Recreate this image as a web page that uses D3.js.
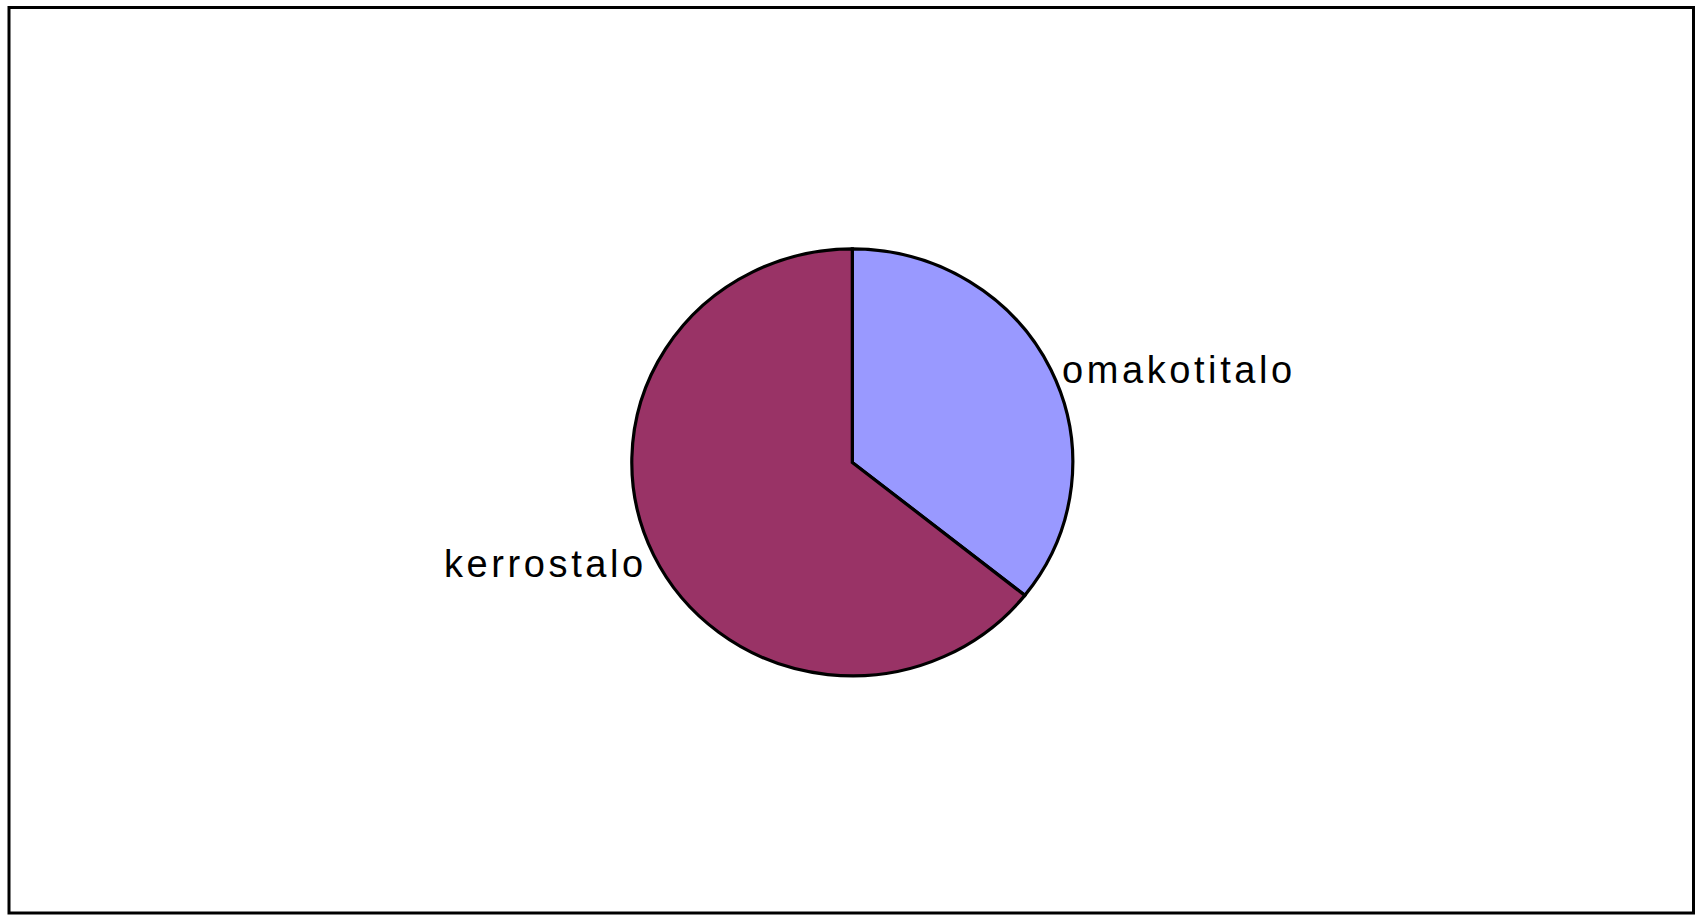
<!DOCTYPE html>
<html>
<head>
<meta charset="utf-8">
<script src="https://cdn.jsdelivr.net/npm/d3@7"></script>
<style>
  html, body { margin: 0; padding: 0; background: #fff; }
  svg { display: block; }
</style>
</head>
<body>
<svg id="chart" width="1695" height="915"></svg>
<script>
const categories = ["omakotitalo", "kerrostalo"];
const values = [35.7, 64.3];
const colors = ["#9999FF", "#993366"];

const svg = d3.select("#chart");
const W = 1695, H = 915;

// outer frame
svg.append("rect")
  .attr("x", 9).attr("y", 7.5)
  .attr("width", 1684.5).attr("height", 905.5)
  .attr("fill", "#fff").attr("stroke", "#000").attr("stroke-width", 3);

const cx = 852.3, cy = 462.4, rx = 220.5, ry = 213.5;
const data = categories.map((c, i) => ({ name: c, value: values[i], color: colors[i] }));

const pie = d3.pie().sort(null).value(d => d.value);
const arcs = pie(data);
const arc = d3.arc().innerRadius(0).outerRadius(rx);

const g = svg.append("g")
  .attr("transform", `translate(${cx},${cy}) scale(1,${ry / rx})`);

g.selectAll("path")
  .data(arcs)
  .join("path")
  .attr("d", arc)
  .attr("fill", d => d.data.color)
  .attr("stroke", "#000")
  .attr("stroke-width", 3.2)
  .attr("stroke-linejoin", "miter")
  .attr("vector-effect", "non-scaling-stroke");

// labels
const labelFactor = [1.0, 1.09];
const labelGap = [11, 11];
svg.selectAll("text.lbl")
  .data(arcs)
  .join("text")
  .attr("class", "lbl")
  .each(function(d, i) {
    const mid = (d.startAngle + d.endAngle) / 2;
    const x = cx + rx * labelFactor[i] * Math.sin(mid);
    const y = cy - ry * labelFactor[i] * Math.cos(mid);
    const right = Math.sin(mid) >= 0;
    d3.select(this)
      .attr("x", x + labelGap[i])
      .attr("y", y)
      .attr("dy", "0.36em")
      .attr("text-anchor", right ? "start" : "end");
  })
  .attr("font-family", "Liberation Sans, Arial, sans-serif")
  .attr("font-size", 38)
  .attr("letter-spacing", "3.6px")
  .attr("fill", "#000")
  .text(d => d.data.name);
</script>
</body>
</html>
